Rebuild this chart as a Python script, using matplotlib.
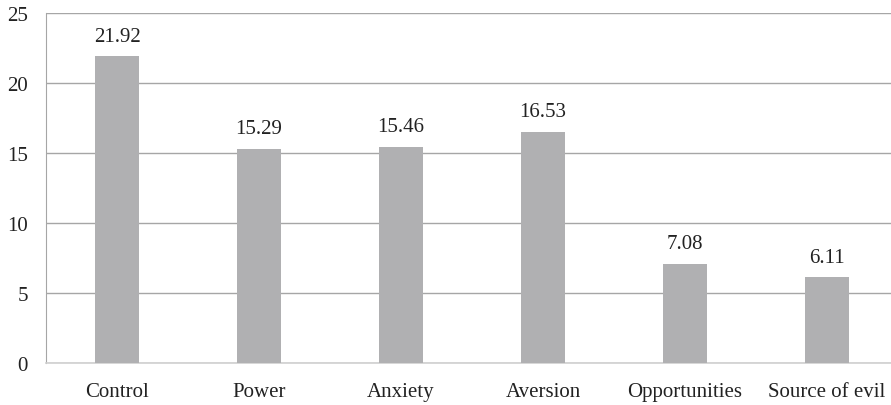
import matplotlib
matplotlib.use("Agg")
import matplotlib.pyplot as plt

categories = ["Control", "Power", "Anxiety", "Aversion", "Opportunities", "Source of evil"]
values = [21.92, 15.29, 15.46, 16.53, 7.08, 6.11]
yticks = [0, 5, 10, 15, 20, 25]

plt.rcParams['font.family'] = ['Liberation Serif', 'DejaVu Serif']

fig = plt.figure(figsize=(8.91, 4.06), dpi=100)
ax = fig.add_axes([46/891, 1-364/406, 1-46/891, 350/406])

x = range(len(categories))
ax.bar(x, values, width=0.31, color="#B0B0B2", zorder=3)
for xi, v in zip(x, values):
    ax.text(xi, v + 0.75, f"{v:.2f}", ha="center", va="bottom", fontsize=15, color="#222222")

ax.set_xlim(-0.5, 5.45)
ax.set_ylim(0, 25)
ax.set_yticks(yticks)
ax.set_xticks(list(x))
ax.set_xticklabels(categories)
ax.yaxis.grid(True, color="#A6A6A6", linewidth=1.0, zorder=0)
ax.tick_params(axis="both", length=0, labelsize=15, colors="#222222")
ax.tick_params(axis="x", pad=14)
ax.tick_params(axis="y", pad=13)
for s in ["top", "right"]:
    ax.spines[s].set_visible(False)
ax.spines["left"].set_color("#A6A6A6")
ax.spines["bottom"].set_color("#D0D0D0")
ax.spines["bottom"].set_linewidth(1.2)

fig.savefig("out.png", dpi=100)
